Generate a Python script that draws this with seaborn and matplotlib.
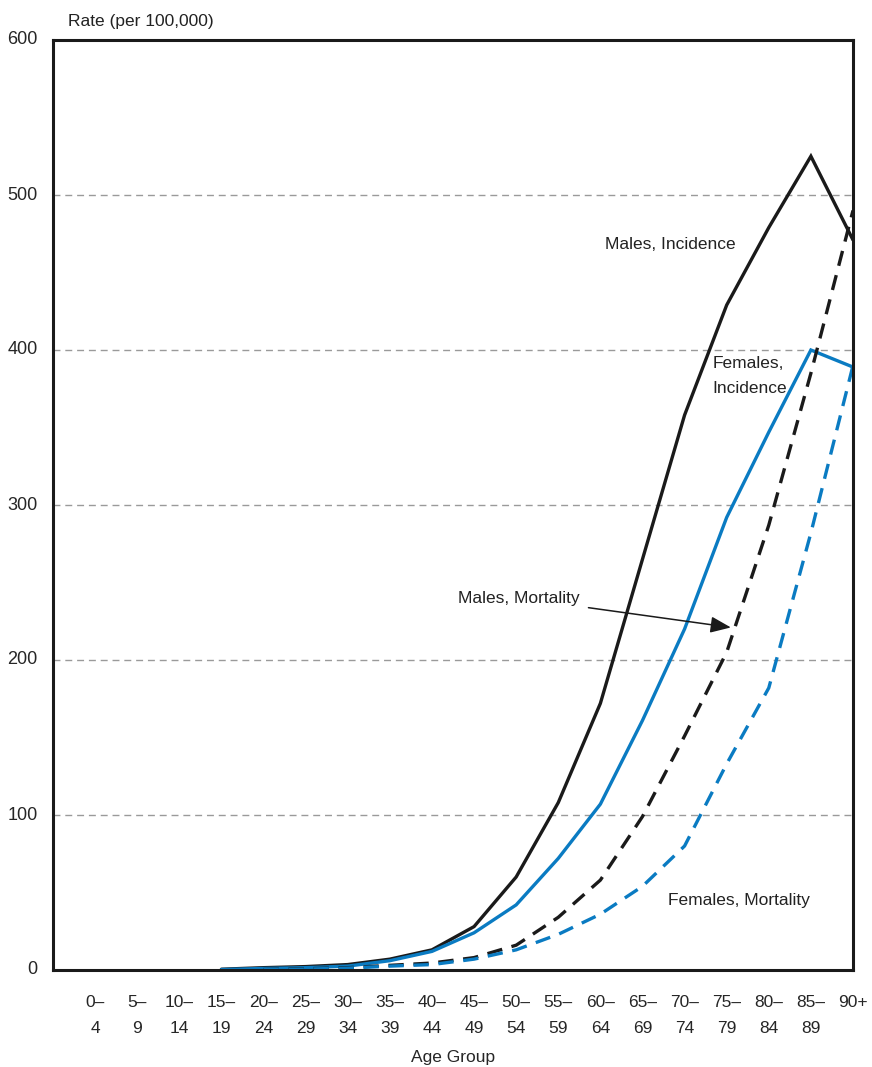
import numpy as np
import pandas as pd
import matplotlib
matplotlib.use("Agg")
import matplotlib.pyplot as plt
import seaborn as sns

# Age groups (two-line tick labels)
age_groups = ["0–\n4", "5–\n9", "10–\n14", "15–\n19", "20–\n24", "25–\n29", "30–\n34",
              "35–\n39", "40–\n44", "45–\n49", "50–\n54", "55–\n59", "60–\n64", "65–\n69",
              "70–\n74", "75–\n79", "80–\n84", "85–\n89", "90+"]

nan = np.nan
# Rates per 100,000
males_incidence = [nan, nan, nan, 0.5, 1.5, 2.2, 3.5, 7, 13, 28, 60, 108, 172, 265, 358, 429, 479, 525, 471]
females_incidence = [nan, nan, nan, 0.3, 1.0, 1.5, 2.5, 6, 12, 24, 42, 72, 107, 161, 220, 292, 347, 400, 389]
males_mortality = [nan, nan, nan, nan, 0.3, 0.8, 1.5, 3, 4.5, 8, 16, 34, 58, 99, 151, 205, 287, 385, 490]
females_mortality = [nan, nan, nan, nan, 0.2, 0.6, 1.2, 2.5, 3.5, 7, 13, 23, 36, 54, 80, 133, 182, 282, 390]

BLUE = "#0a7bc2"
BLACK = "#1a1a1a"

sns.set_theme(style="white")
plt.rcParams["font.family"] = ["Liberation Sans Narrow", "Liberation Sans", "DejaVu Sans"]
plt.rcParams["text.color"] = "#222222"

fig = plt.figure(figsize=(8.72, 10.67), dpi=100)
ax = fig.add_axes([53 / 872, 97 / 1067, 800 / 872, 930 / 1067])

idx = np.arange(len(age_groups))
series = [
    (males_incidence, BLACK, "-"),
    (females_incidence, BLUE, "-"),
    (males_mortality, BLACK, "--"),
    (females_mortality, BLUE, "--"),
]
for vals, color, ls in series:
    df = pd.DataFrame({"age": idx, "rate": vals}).dropna()
    line_kw = dict(color=color, linewidth=2.4, solid_joinstyle="miter")
    if ls == "--":
        line_kw.update(linestyle=(0, (4.6, 2.9)), dash_capstyle="butt")
    sns.lineplot(data=df, x="age", y="rate", ax=ax, **line_kw)

ax.set_xlim(-1, 18)
ax.set_ylim(0, 600)
ax.set_yticks([0, 100, 200, 300, 400, 500, 600])
ax.set_yticklabels(["0", "100", "200", "300", "400", "500", "600"], fontsize=13)
for yv in [100, 200, 300, 400, 500]:
    ax.axhline(yv, color="#9a9a9a", linewidth=1.0, linestyle=(0, (5, 3.5)), zorder=0)

ax.set_xticks(idx)
ax.set_xticklabels(age_groups, fontsize=12.5, linespacing=1.9)
ax.tick_params(axis="x", direction="in", length=5, width=1.5, color=BLACK, pad=18)
ax.tick_params(axis="y", length=0, pad=11)
for lab in ax.get_yticklabels():
    lab.set_verticalalignment("center")

for sp in ax.spines.values():
    sp.set_color(BLACK)
    sp.set_linewidth(2.2)
    sp.set_visible(True)

ax.set_xlabel("Age Group", fontsize=12.5, labelpad=10)
ax.set_ylabel("")
ax.text(0.019, 1.012, "Rate (per 100,000)", transform=ax.transAxes, fontsize=12.5,
        ha="left", va="bottom")

ax.text(12.12, 468, "Males, Incidence", fontsize=12.5, ha="left", va="center")
ax.text(14.67, 383, "Females,\nIncidence", fontsize=12.5, ha="left", va="center",
        linespacing=1.85)
ax.text(13.6, 45, "Females, Mortality", fontsize=12.5, ha="left", va="center")
ax.annotate("Males, Mortality", xy=(15.1, 221), xytext=(8.62, 240), fontsize=12.5,
            ha="left", va="center",
            arrowprops=dict(arrowstyle="-|>,head_length=1.0,head_width=0.4",
                            color=BLACK, lw=1.1, shrinkA=4, shrinkB=0))

fig.savefig("out.png", dpi=100)
